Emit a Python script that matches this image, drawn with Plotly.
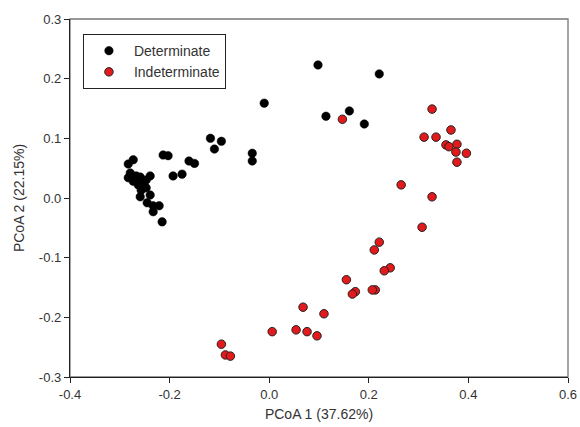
import plotly.graph_objects as go

det_x = [-0.010, -0.118, -0.110, -0.096, -0.034, -0.034, -0.161, -0.150, -0.213, -0.203,
         -0.193, -0.175, -0.283, -0.273, -0.283, -0.279, -0.273, -0.267, -0.259, -0.253,
         -0.263, -0.247, -0.239, -0.247, -0.257, -0.259, -0.239, -0.245, -0.233, -0.221,
         -0.233, -0.215, 0.098, 0.221, 0.114, 0.161, 0.191]
det_y = [0.159, 0.100, 0.082, 0.095, 0.075, 0.062, 0.062, 0.058, 0.072, 0.071,
         0.037, 0.040, 0.057, 0.064, 0.034, 0.042, 0.028, 0.037, 0.035, 0.025,
         0.022, 0.030, 0.037, 0.017, 0.013, 0.002, 0.005, -0.008, -0.013, -0.013,
         -0.023, -0.040, 0.223, 0.208, 0.137, 0.146, 0.124]

ind_x = [0.147, 0.327, 0.311, 0.335, 0.365, 0.355, 0.361, 0.377, 0.375, 0.396,
         0.377, 0.265, 0.327, 0.307, 0.221, 0.211, 0.243, 0.231, 0.155, 0.173,
         0.167, 0.213, 0.207, 0.068, 0.110, 0.054, 0.076, 0.096, 0.006, -0.096,
         -0.088, -0.078]
ind_y = [0.132, 0.149, 0.102, 0.102, 0.114, 0.089, 0.086, 0.090, 0.077, 0.075,
         0.060, 0.022, 0.002, -0.049, -0.074, -0.087, -0.117, -0.122, -0.137, -0.157,
         -0.161, -0.154, -0.154, -0.183, -0.194, -0.221, -0.224, -0.231, -0.224, -0.245,
         -0.263, -0.265]

x_ticks = [-0.4, -0.2, 0.0, 0.2, 0.4, 0.6]
x_labels = ["-0.4", "-0.2", "0.0", "0.2", "0.4", "0.6"]
y_ticks = [-0.3, -0.2, -0.1, 0.0, 0.1, 0.2, 0.3]
y_labels = ["-0.3", "-0.2", "-0.1", "0.0", "0.1", "0.2", "0.3"]

font = "Arial, Liberation Sans, sans-serif"

fig = go.Figure()
fig.add_trace(go.Scatter(x=det_x, y=det_y, mode="markers", name="Determinate",
                         marker=dict(color="black", size=8.5, line=dict(color="black", width=0.5))))
fig.add_trace(go.Scatter(x=ind_x, y=ind_y, mode="markers", name="Indeterminate",
                         marker=dict(color="#e31a1c", size=8.5, line=dict(color="#222222", width=1))))

fig.update_layout(
    width=580, height=427,
    margin=dict(l=70, r=12, t=19, b=50, pad=0),
    plot_bgcolor="white", paper_bgcolor="white",
    font=dict(family=font, size=13, color="#333"),
    showlegend=True,
    legend=dict(x=0.026, y=0.958, xanchor="left", yanchor="top",
                bordercolor="#222", borderwidth=1, bgcolor="white",
                font=dict(size=14, color="#333"), itemwidth=40,
                tracegroupgap=0),
    xaxis=dict(range=[-0.4, 0.6], tickvals=x_ticks, ticktext=x_labels,
               automargin=False,
               showgrid=False, zeroline=False, showline=True, linecolor="#222",
               linewidth=1.3, ticks="outside", ticklen=5, tickcolor="#222",
               title=dict(text="PCoA 1 (37.62%)", font=dict(size=14), standoff=8)),
    yaxis=dict(range=[-0.3, 0.3], tickvals=y_ticks, ticktext=y_labels,
               automargin=False,
               showgrid=False, zeroline=False, showline=True, linecolor="#222",
               linewidth=1.3, ticks="outside", ticklen=5, tickcolor="#222",
               title=dict(text="PCoA 2 (22.15%)", font=dict(size=14), standoff=10)),
    shapes=[dict(type="rect", xref="paper", yref="paper", x0=0, y0=0, x1=1, y1=1,
                 line=dict(color="#777", width=1.3), layer="below")],
)

fig.write_html("out.html", config={"displayModeBar": False},
               post_script="document.body.style.margin='0';document.body.style.padding='0';")
